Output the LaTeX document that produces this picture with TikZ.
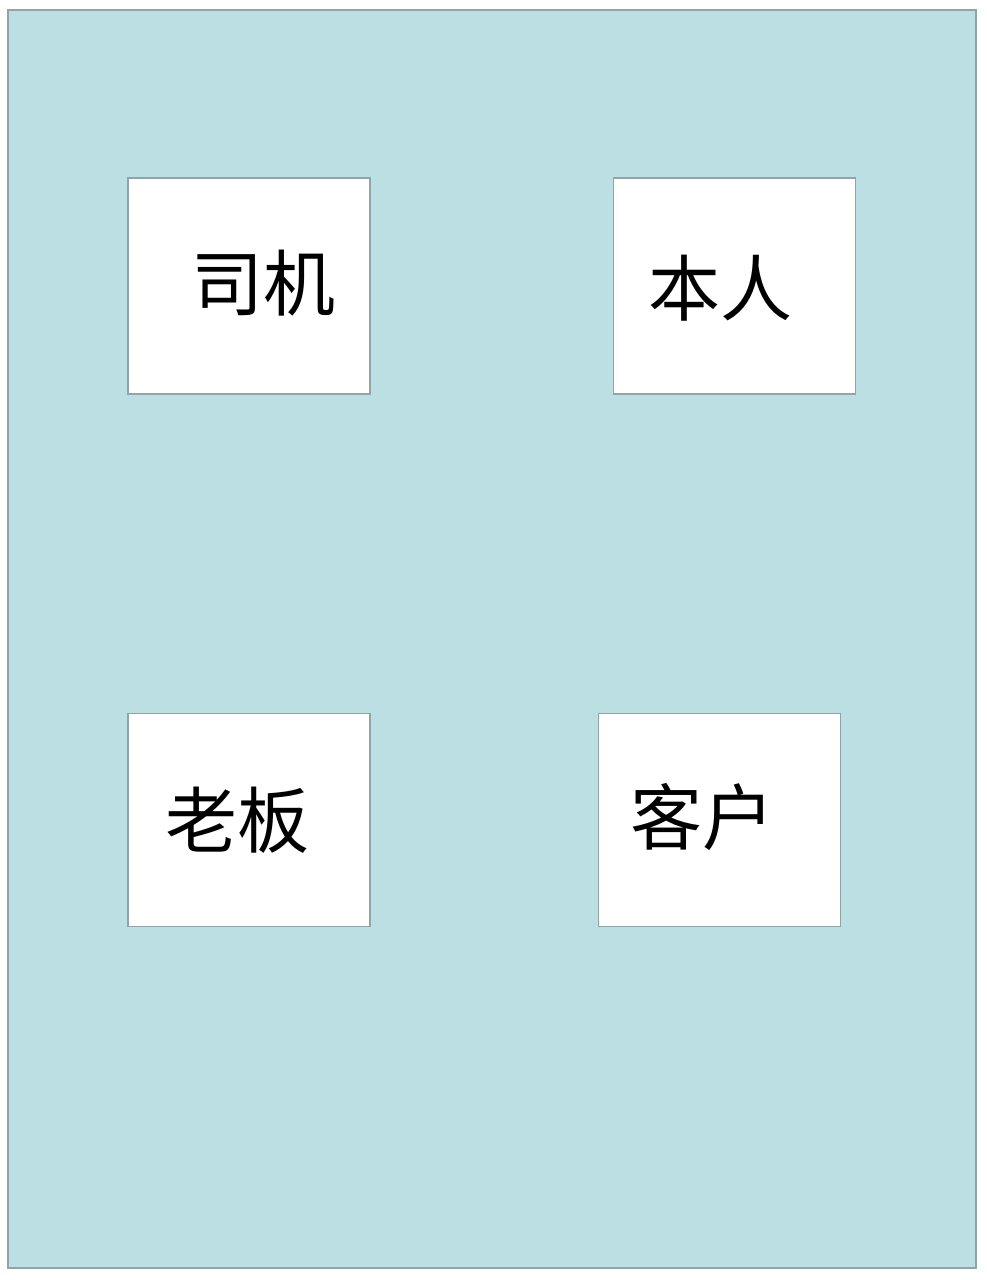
\documentclass[tikz,border=0pt]{standalone}
\usepackage{fontspec}
\newfontfamily\cjk{Noto Sans CJK SC}
\usetikzlibrary{positioning}
\definecolor{panel}{HTML}{BCDFE3}
\definecolor{rim}{HTML}{8FA5A8}

\begin{document}
\begin{tikzpicture}[x=1pt,y=-1pt,box/.style={draw=rim,fill=white,line width=1.5pt,minimum width=242pt,minimum height=216pt,inner sep=0pt},word/.style={font=\cjk\fontsize{72}{80}\selectfont,inner sep=0pt}]
                    \useasboundingbox (0,0) rectangle (986,1280);
                    \node[draw=rim,fill=panel,line width=2pt,minimum width=968pt,minimum height=1258pt,inner sep=0pt] (frame) at (492,639){};

                    \node[box] (siji) at (249,286){};
                    \node[box] (benren) [right=242pt of siji]{};
                    \node[box,minimum height=213pt] (laoban) [below=318pt of siji]{};
                    \node[box,minimum height=213pt] (kehu) [right=227pt of laoban]{};

                    \node[word] (w1) at ([xshift=14pt,yshift=3pt]siji){司机};
                    \node[word] (w2) at ([xshift=-14pt,yshift=-2pt]benren){本人};
                    \node[word] (w3) at ([xshift=-12pt]laoban){老板};
                    \node[word] (w4) at ([xshift=-17pt,yshift=3pt]kehu){客户};
                \end{tikzpicture}
\end{document}
